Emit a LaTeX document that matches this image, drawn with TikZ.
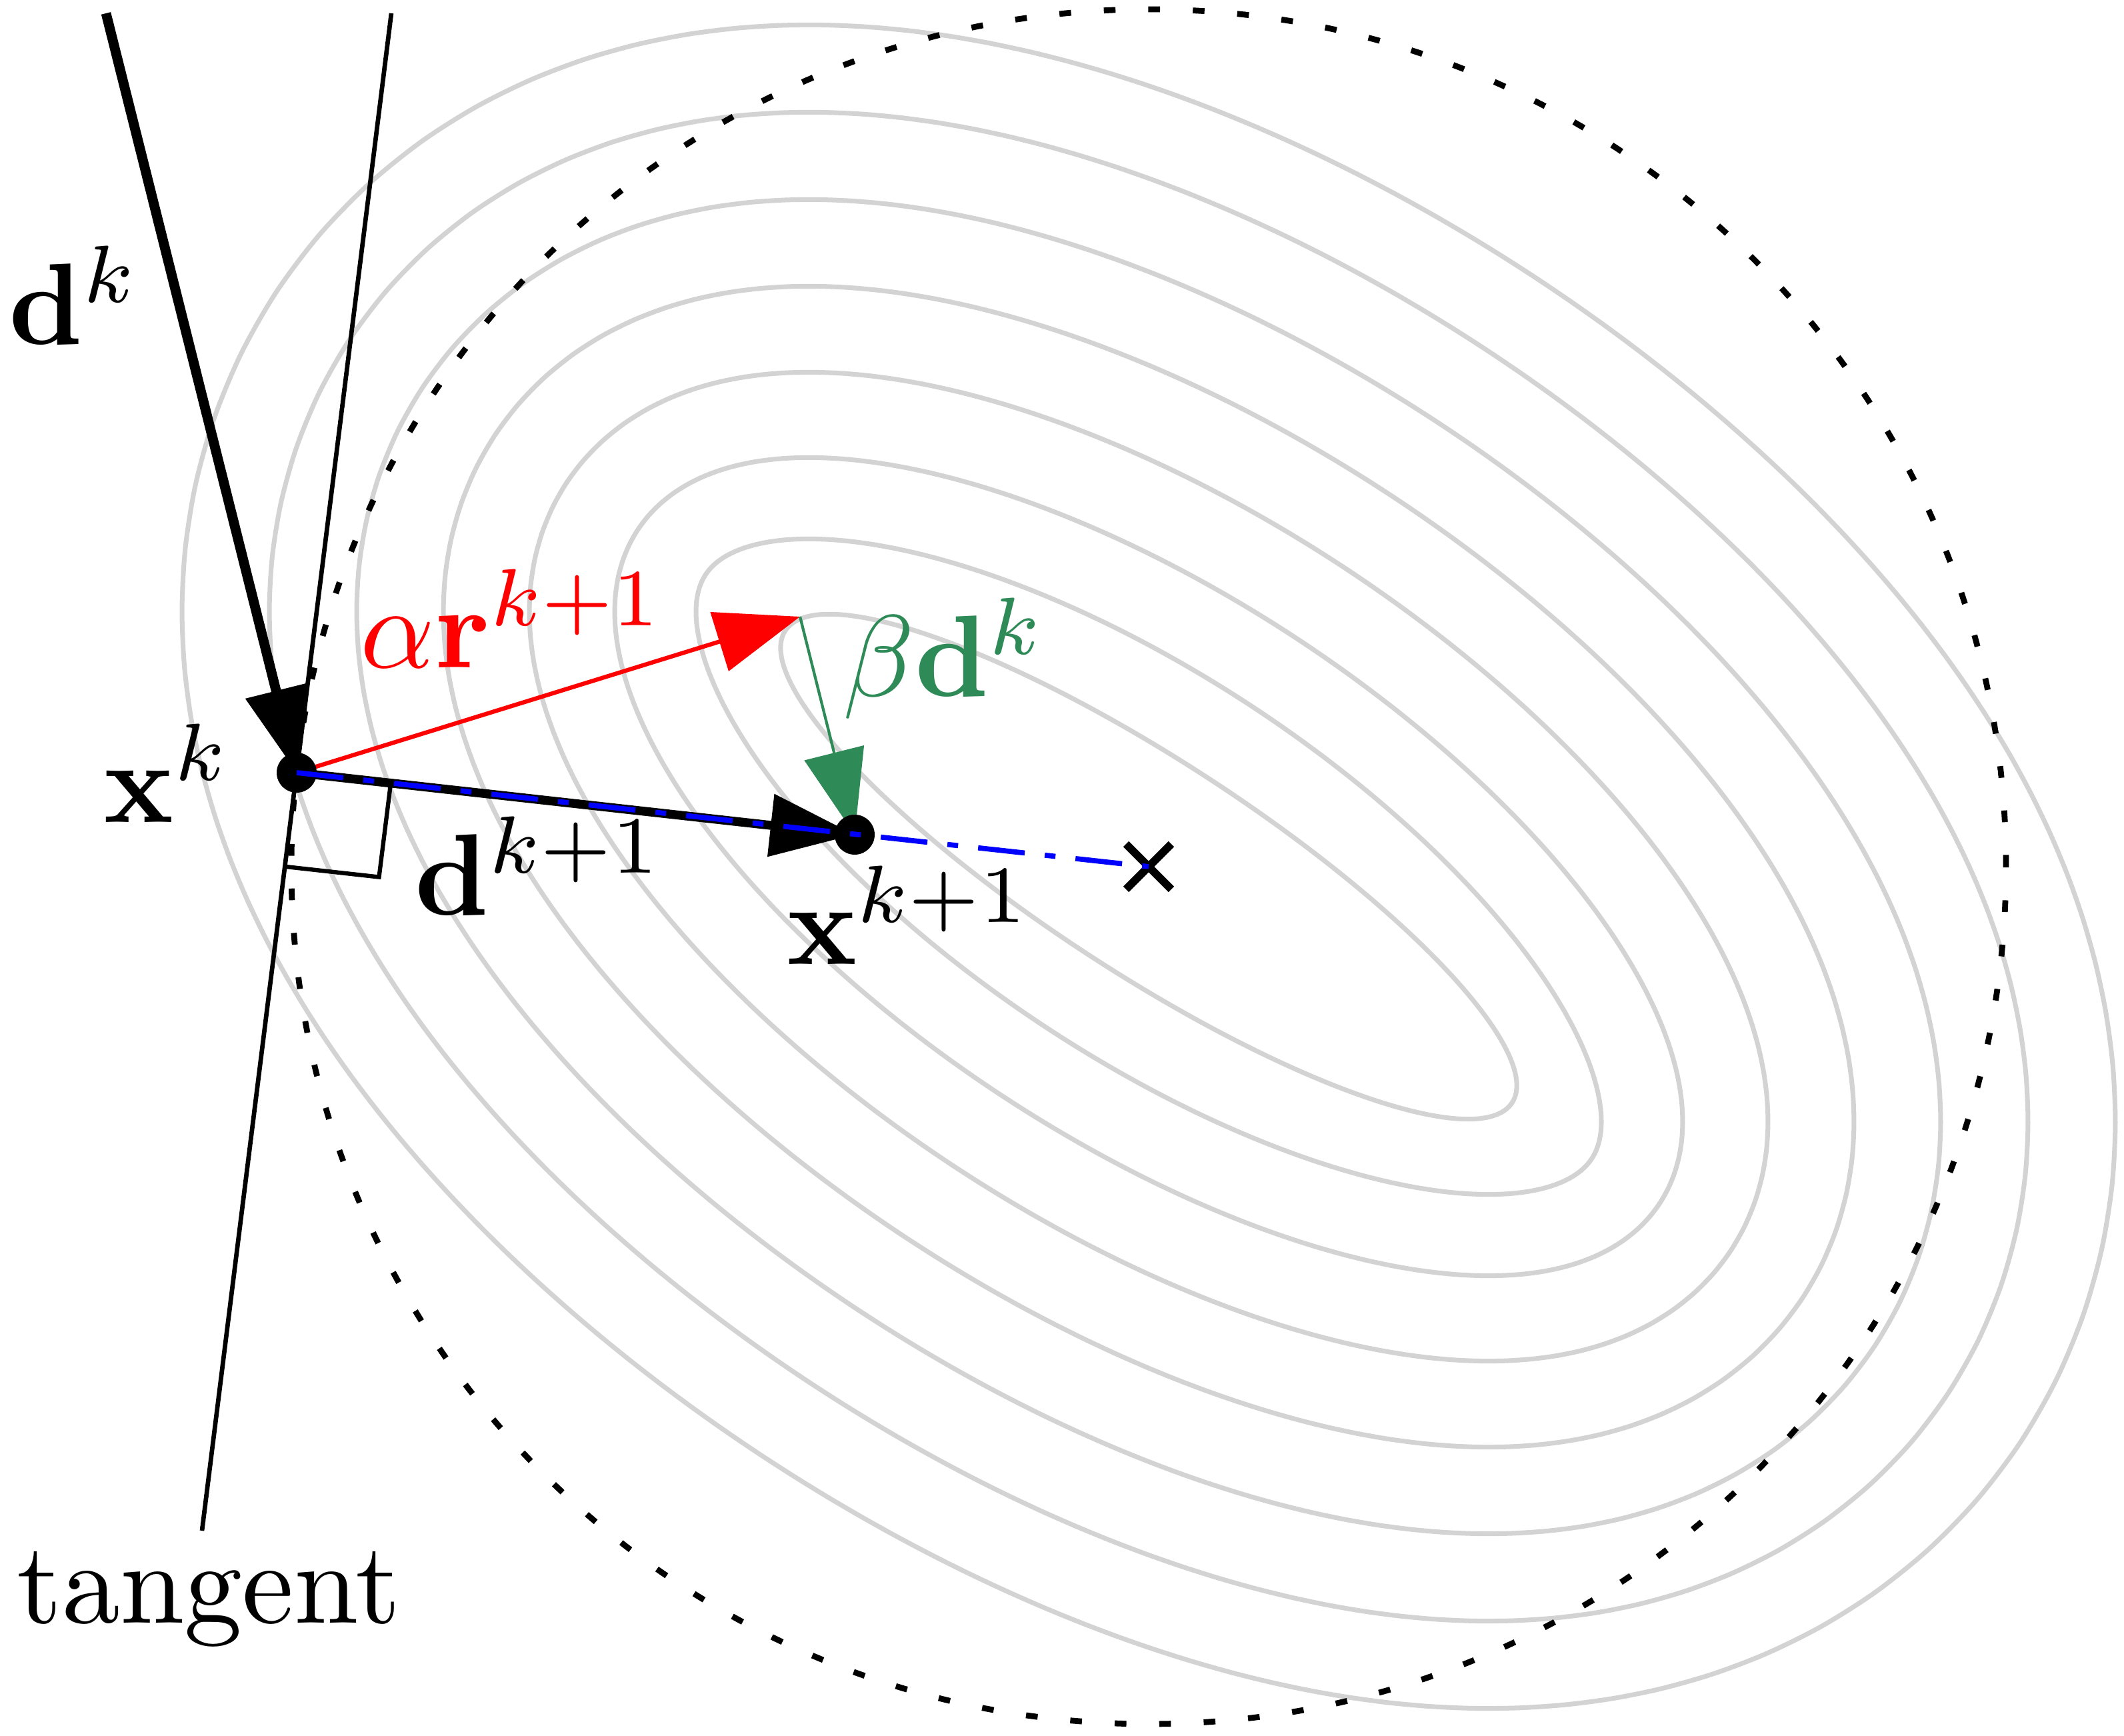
\documentclass[tikz,border=0pt]{standalone}
\usepackage{amsmath,amssymb}
\usepackage{tikz}
\usepackage{xcolor}
\usetikzlibrary{arrows.meta, calc, shapes.misc}
\definecolor{contourgray}{RGB}{211,211,211}
\definecolor{seagreen}{RGB}{46,139,87}

\begin{document}
\begin{tikzpicture}[contour/.style = {draw=contourgray, line width=1pt},
        ptdot/.style = {circle, fill=black, inner sep=0pt, minimum size=0.3cm},
        head/.style = {-{Triangle[length=18pt,width=13pt]}},
        txt/.style = {scale=2.475},
        declare function = {nrm(\t) = sqrt(3.186*cos(\t)*cos(\t)+18.79*sin(\t)*sin(\t));}]
        \useasboundingbox (0,0) rectangle (15.93,13.015);
        \coordinate (C) at (8.615,6.515);
        \coordinate (xk) at (2.225,7.22);
        \coordinate (xk1) at (6.41,6.755);
        \coordinate (r) at (6.0,8.39);
        \coordinate (dtop) at (0.795,12.915);
        \coordinate (ttop) at (2.935,12.915);
        \coordinate (tbot) at (1.515,1.535);
        % level curves
        \draw[contour, rotate around={-33:(C)}] (C) ellipse (3.25 and 0.8);
        \begin{scope}[shift={(C)}, rotate=-33.4]
        \foreach \r in {-0.355,0.255,0.895,1.54,2.19,2.845,3.5}
                \draw[contour] plot[smooth cycle, domain=0:357, samples=120]
                        ({4.335*cos(\x)+\r*1.785*cos(\x)/nrm(\x)},
                         {1.785*sin(\x)+\r*4.335*sin(\x)/nrm(\x)});
        \end{scope}
        \draw[line width=1.25pt, dash pattern=on 2.5pt off 7pt] (C) circle (6.43);
        % tangent and steps
        \draw[line width=0.95pt] (ttop) -- (tbot);
        \draw[head, line width=2.1pt] (dtop) -- (xk);
        \draw[head, red, line width=0.9pt] (xk) -- (r);
        \draw[head, seagreen, line width=0.6pt] (r) -- (xk1);
        \draw[head, line width=1.9pt] (xk) -- (xk1);
        \coordinate (ra) at ($(xk)!0.71cm!(tbot)$);
        \coordinate (rb) at ($(xk)!0.71cm!(xk1)$);
        \draw[line width=0.9pt] (ra) -- ($(ra)+(rb)-(xk)$) -- (rb);
        \node[ptdot] (xkdot) at (xk) {};
        \node[ptdot] (xk1dot) at (xk1) {};
        \node[draw, cross out, line width=1.7pt, minimum size=0.28cm, inner sep=0pt] (min) at (C) {};
        \draw[blue, line width=1.1pt, dash pattern=on 10pt off 4.3pt on 2.3pt off 4.3pt] (xk) -- (min.center);
        % labels
        \node[txt] (dklabel) at (0.56,10.8) {$\mathbf{d}^k$};
        \node[txt] (xklabel) at (1.255,7.215) {$\mathbf{x}^k$};
        \node[txt, text=red] (rlabel) at (3.845,8.375) {$\alpha\mathbf{r}^{k+1}$};
        \node[txt, text=seagreen] (blabel) at (7.085,8.075) {$\beta\mathbf{d}^k$};
        \node[txt] (dk1label) at (4.045,6.52) {$\mathbf{d}^{k+1}$};
        \node[txt] (xk1label) at (6.82,6.15) {$\mathbf{x}^{k+1}$};
        \node[txt] (tanlabel) at (1.565,1.02) {tangent};
\end{tikzpicture}
\end{document}
